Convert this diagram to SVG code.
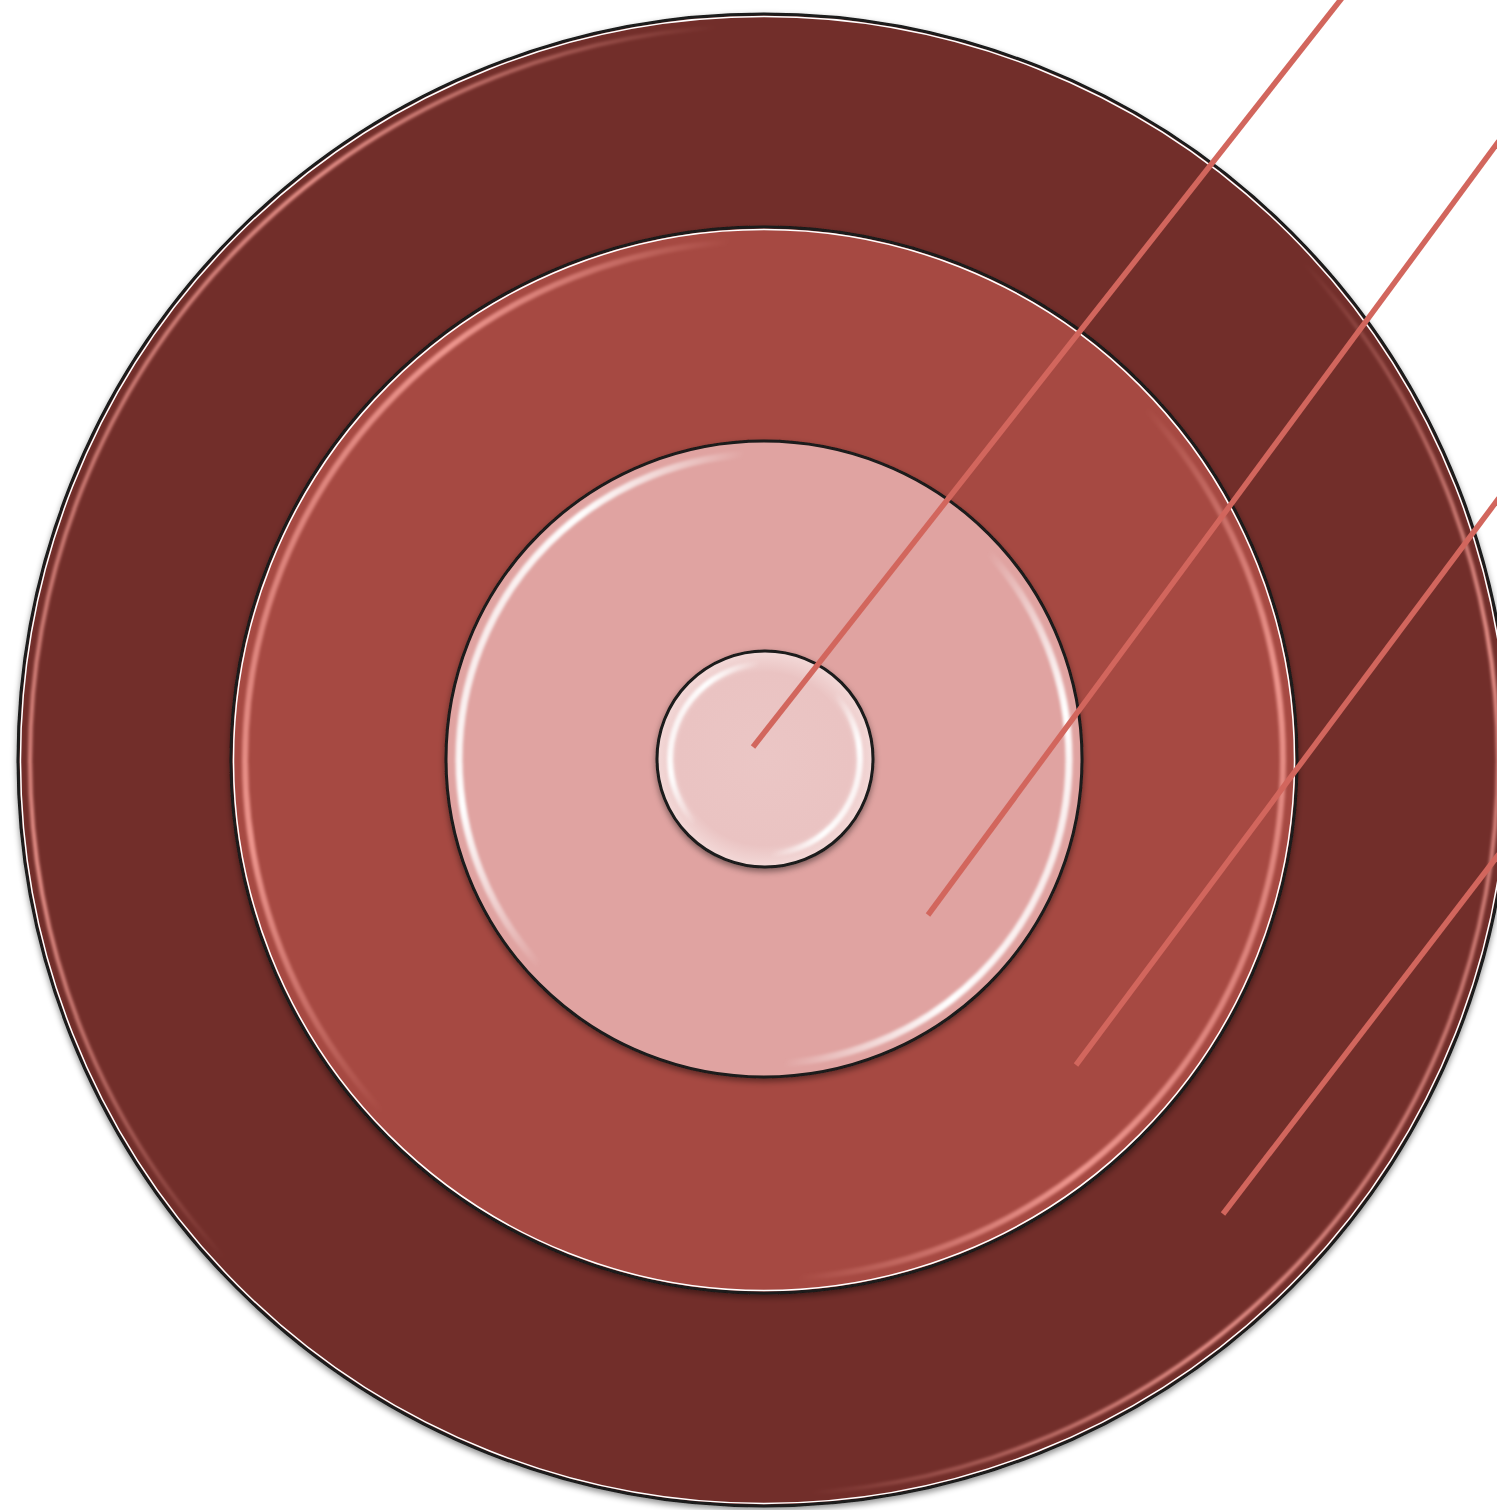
<svg xmlns="http://www.w3.org/2000/svg" width="1497" height="1510" viewBox="0 0 1497 1510">
  <defs>
    <filter id="shadow" x="-10%" y="-10%" width="120%" height="120%">
      <feDropShadow dx="0" dy="3" stdDeviation="3" flood-color="#000" flood-opacity="0.45"/>
    </filter>
    <filter id="soft" x="-10%" y="-10%" width="120%" height="120%">
      <feGaussianBlur stdDeviation="1.6"/>
    </filter>
    <linearGradient id="glossPink" x1="0" y1="0.3" x2="1" y2="0.7">
      <stop offset="0" stop-color="#F29A92" stop-opacity="0.6"/>
      <stop offset="0.1" stop-color="#F29A92" stop-opacity="0.95"/>
      <stop offset="0.3" stop-color="#F29A92" stop-opacity="0"/>
      <stop offset="0.7" stop-color="#F29A92" stop-opacity="0"/>
      <stop offset="0.9" stop-color="#F29A92" stop-opacity="0.95"/>
      <stop offset="1" stop-color="#F29A92" stop-opacity="0.6"/>
    </linearGradient>
    <linearGradient id="glossWhite" x1="0" y1="0.3" x2="1" y2="0.7">
      <stop offset="0" stop-color="#FFFFFF" stop-opacity="0.7"/>
      <stop offset="0.1" stop-color="#FFFFFF" stop-opacity="1"/>
      <stop offset="0.3" stop-color="#FFFFFF" stop-opacity="0"/>
      <stop offset="0.7" stop-color="#FFFFFF" stop-opacity="0"/>
      <stop offset="0.9" stop-color="#FFFFFF" stop-opacity="1"/>
      <stop offset="1" stop-color="#FFFFFF" stop-opacity="0.7"/>
    </linearGradient>
    <radialGradient id="innerFill" cx="0.5" cy="0.5" r="0.5">
      <stop offset="0" stop-color="#EBC6C5"/>
      <stop offset="0.8" stop-color="#EAC3C2"/>
      <stop offset="1" stop-color="#F3D9D8"/>
    </radialGradient>
  </defs>
  <style>
    .edge { stroke: #1a1a1a; stroke-width: 3; }
    .rim { fill: none; stroke: #FFFFFF; stroke-width: 1.5; }
    .gloss { fill: none; filter: url(#soft); }
    .conn { stroke: #D2665D; stroke-width: 5.5; fill: none; stroke-linecap: butt; }
  </style>
  <rect width="1497" height="1510" fill="#FFFFFF"/>

  <g id="ring-outer">
    <circle cx="764" cy="760" r="746" fill="#722F2C" class="edge" filter="url(#shadow)"/>
    <circle cx="764" cy="760" r="743.5" class="rim"/>
    <circle cx="764" cy="760" r="734" class="gloss" stroke="url(#glossPink)" stroke-width="4"/>
  </g>

  <g id="ring-second">
    <circle cx="764" cy="760" r="533" fill="#A64A42" class="edge" filter="url(#shadow)"/>
    <circle cx="764" cy="760" r="530.5" class="rim"/>
    <circle cx="764" cy="760" r="519" class="gloss" stroke="url(#glossPink)" stroke-width="6"/>
  </g>

  <g id="ring-third">
    <circle cx="764" cy="759" r="318" fill="#E0A3A1" class="edge" filter="url(#shadow)"/>
    <circle cx="764" cy="759" r="305" class="gloss" stroke="url(#glossWhite)" stroke-width="7"/>
  </g>

  <g id="core">
    <circle cx="765" cy="759" r="108" fill="url(#innerFill)" class="edge" filter="url(#shadow)"/>
    <circle cx="765" cy="759" r="95" class="gloss" stroke="url(#glossWhite)" stroke-width="6"/>
  </g>

  <g id="connectors">
    <line class="conn" x1="753" y1="747" x2="1342" y2="-2"/>
    <line class="conn" x1="928" y1="915" x2="1499" y2="141"/>
    <line class="conn" x1="1076" y1="1065" x2="1499" y2="498"/>
    <line class="conn" x1="1223" y1="1214" x2="1499" y2="854"/>
  </g>
</svg>
